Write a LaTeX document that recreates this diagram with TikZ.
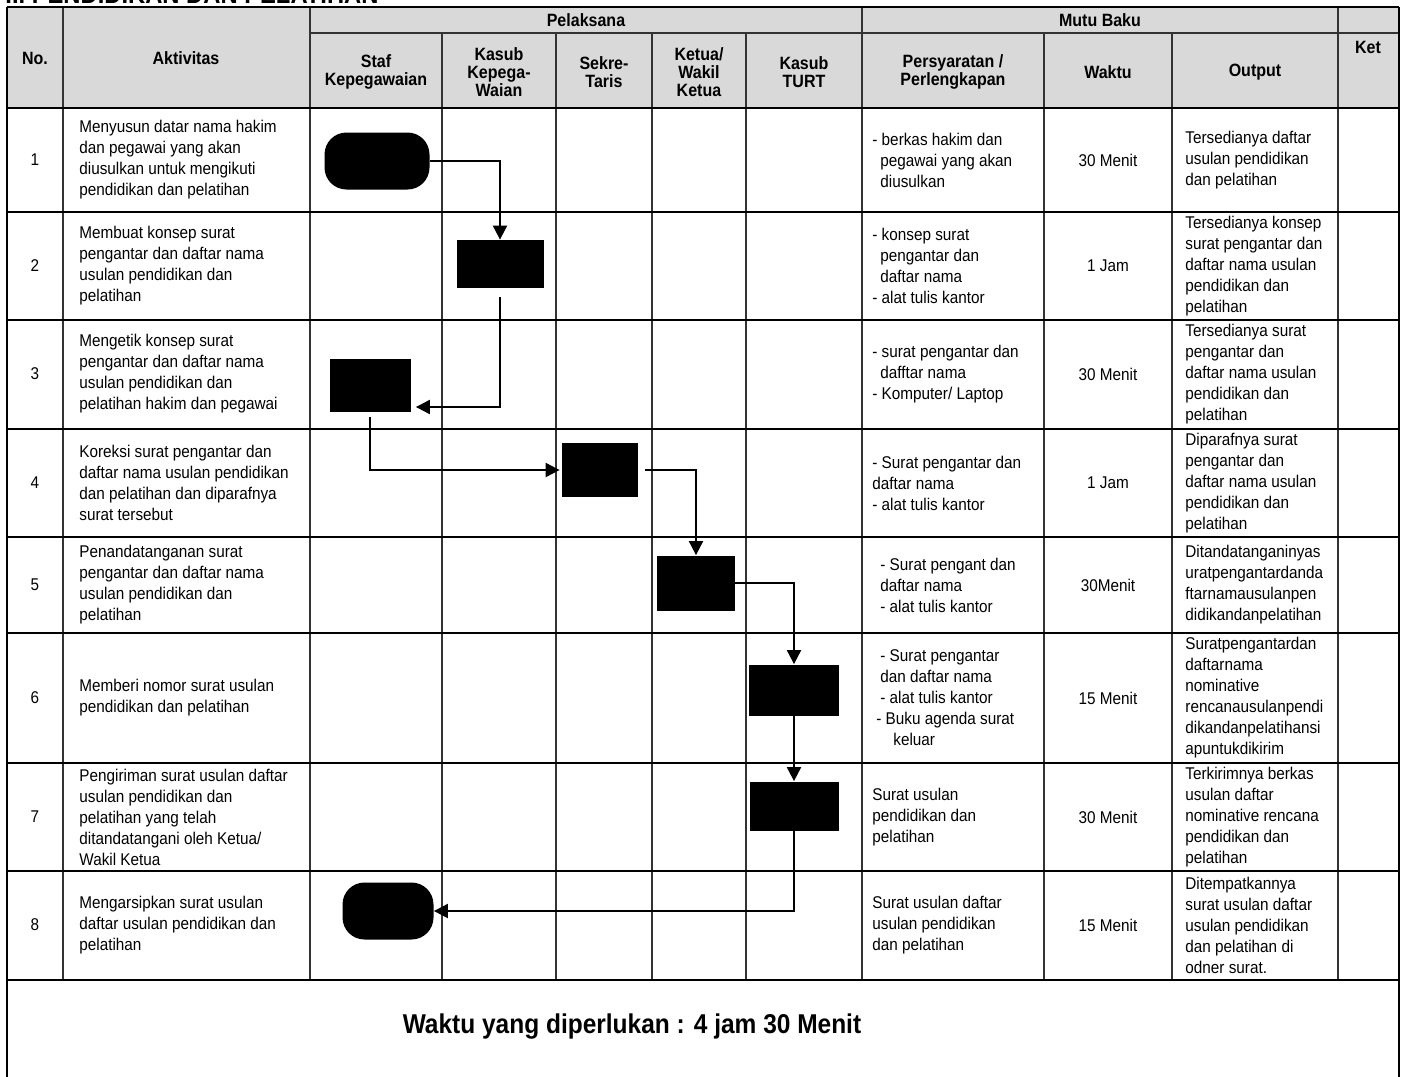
\documentclass[tikz,border=0pt]{standalone}
\usepackage{fontspec}
\setmainfont{Liberation Sans}[FakeStretch=0.9]
\usetikzlibrary{arrows.meta}
\definecolor{kepalabg}{HTML}{D9D9D9}
\definecolor{garis}{HTML}{333333}
\newcommand\isi{\fontsize{8.5pt}{10.5pt}\selectfont}
\newcommand\kepala{\fontsize{8.9pt}{9pt}\selectfont\bfseries}
\newcommand\geser{\hspace*{4pt}}

\begin{document}
\begin{tikzpicture}[x=0.5pt,y=-0.5pt,
  isian/.style={font=\isi,align=left,inner sep=0pt,anchor=west},
  tengah/.style={font=\isi,align=center,inner sep=0pt},
  judulkol/.style={font=\kepala,align=center,inner sep=0pt},
  terminal/.style={fill=black,rounded corners=11pt,minimum height=28.5pt,inner sep=0pt},
  proses/.style={fill=black,inner sep=0pt},
  alir/.style={line width=1pt,-{Triangle[length=7pt,width=7pt]}}]
\useasboundingbox (0,0) rectangle (1405,1077);

% judul (terpotong di tepi atas)
\node[anchor=base west,inner sep=0pt,font=\fontsize{13.2pt}{14pt}\selectfont\bfseries] (judul) at (5,3) {II. PENDIDIKAN DAN PELATIHAN};

% tabel
\fill[kepalabg] (7,7) rectangle (1399,108);
\foreach \x in {63,310,862,1338} \draw[line width=0.7pt,garis] (\x,7) -- (\x,980);
\foreach \x in {442,556,652,746,1044,1172} \draw[line width=0.7pt,garis] (\x,33) -- (\x,980);
\draw[line width=0.7pt,garis] (310,33) -- (1399,33);
\foreach \y in {7,108,212,320,429,537,633,763,871,980} \draw[line width=1.2pt] (7,\y) -- (1399,\y);
\draw[line width=1.1pt] (7,7) -- (7,1090) (1399,7) -- (1399,1090);

% kepala tabel
\node[judulkol] (hno) at (35,58) {No.};
\node[judulkol] (hakt) at (186,58) {Aktivitas};
\node[judulkol] (hpel) at (586,20) {Pelaksana};
\node[judulkol] (hmutu) at (1100,20) {Mutu Baku};
\foreach \x/\t/\id in {376/{Staf\\Kepegawaian}/staf, 499/{Kasub\\Kepega-\\Waian}/kasub, 604/{Sekre-\\Taris}/sek, 699/{Ketua/\\Wakil\\Ketua}/ketua, 804/{Kasub\\TURT}/turt, 953/{Persyaratan /\\Perlengkapan}/syarat, 1108/{Waktu}/waktu, 1255/{Output}/output}
  \node[judulkol] (h\id) at (\x,72) {\t};
\node[judulkol] (hket) at (1368,47) {Ket};

% isi tabel
\foreach \y/\n in {160/1,266/2,374/3,483/4,585/5,698/6,817/7,925/8}
  \node[tengah] (no\n) at (35,\y) {\n};
\foreach \y/\t/\n in {
160/{Menyusun datar nama hakim\\dan pegawai yang akan\\diusulkan untuk mengikuti\\pendidikan dan pelatihan}/1,
266/{Membuat konsep surat\\pengantar dan daftar nama\\usulan pendidikan dan\\pelatihan}/2,
374/{Mengetik konsep surat\\pengantar dan daftar nama\\usulan pendidikan dan\\pelatihan hakim dan pegawai}/3,
483/{Koreksi surat pengantar dan\\daftar nama usulan pendidikan\\dan pelatihan dan diparafnya\\surat tersebut}/4,
585/{Penandatanganan surat\\pengantar dan daftar nama\\usulan pendidikan dan\\pelatihan}/5,
698/{Memberi nomor surat usulan\\pendidikan dan pelatihan}/6,
817/{Pengiriman surat usulan daftar\\usulan pendidikan dan\\pelatihan yang telah\\ditandatangani oleh Ketua/\\Wakil Ketua}/7,
925/{Mengarsipkan surat usulan\\daftar usulan pendidikan dan\\pelatihan}/8}
  \node[isian] (akt\n) at (79,\y) {\t};
\foreach \y/\t/\n in {
160/{- berkas hakim dan\\\geser pegawai yang akan\\\geser diusulkan}/1,
266/{- konsep surat\\\geser pengantar dan\\\geser daftar nama\\- alat tulis kantor}/2,
374/{- surat pengantar dan\\\geser dafftar nama\\- Komputer/ Laptop}/3,
483/{- Surat pengantar dan\\daftar nama\\- alat tulis kantor}/4,
585/{\geser- Surat pengant dan\\\geser daftar nama\\\geser- alat tulis kantor}/5,
698/{\geser- Surat pengantar\\\geser dan daftar nama\\\geser- alat tulis kantor\\\hspace*{2pt}- Buku agenda surat\\\hspace*{10.5pt}keluar}/6,
817/{Surat usulan\\pendidikan dan\\pelatihan}/7,
925/{Surat usulan daftar\\usulan pendidikan\\dan pelatihan}/8}
  \node[isian] (syarat\n) at (872,\y) {\t};
\foreach \y/\t/\n in {160/30 Menit/1,266/1 Jam/2,374/30 Menit/3,483/1 Jam/4,585/30Menit/5,698/15 Menit/6,817/30 Menit/7,925/15 Menit/8}
  \node[tengah] (waktu\n) at (1108,\y) {\t};
\foreach \y/\t/\n in {
160/{Tersedianya daftar\\usulan pendidikan\\dan pelatihan}/1,
266/{Tersedianya konsep\\surat pengantar dan\\daftar nama usulan\\pendidikan dan\\pelatihan}/2,
374/{Tersedianya surat\\pengantar dan\\daftar nama usulan\\pendidikan dan\\pelatihan}/3,
483/{Diparafnya surat\\pengantar dan\\daftar nama usulan\\pendidikan dan\\pelatihan}/4,
585/{Ditandatanganinyas\\uratpengantardanda\\ftarnamausulanpen\\didikandanpelatihan}/5,
698/{Suratpengantardan\\daftarnama\\nominative\\rencanausulanpendi\\dikandanpelatihansi\\apuntukdikirim}/6,
817/{Terkirimnya berkas\\usulan daftar\\nominative rencana\\pendidikan dan\\pelatihan}/7,
925/{Ditempatkannya\\surat usulan daftar\\usulan pendidikan\\dan pelatihan di\\odner surat.}/8}
  \node[isian] (out\n) at (1185,\y) {\t};

% bagan alir
\node[terminal,minimum width=52.5pt] (t1) at (377,161) {};
\node[proses,minimum width=43.5pt,minimum height=24pt] (b2) at (500,264) {};
\node[proses,minimum width=40.5pt,minimum height=26.5pt] (b3) at (370,385) {};
\node[proses,minimum width=38pt,minimum height=27pt] (b4) at (600,470) {};
\node[proses,minimum width=39pt,minimum height=27.5pt] (b5) at (696,583) {};
\node[proses,minimum width=45pt,minimum height=25.5pt] (b6) at (794,690) {};
\node[proses,minimum width=44.5pt,minimum height=24.5pt] (b7) at (794,806) {};
\node[terminal,minimum width=45.5pt] (t8) at (388,911) {};

\draw[alir] (t1.east) -| (b2.north);
\draw[alir,shorten >=2.5pt] ([yshift=-4.5pt]b2.south) |- ([yshift=-11pt]b3.east);
\draw[alir,shorten >=1pt] ([yshift=-2.5pt]b3.south) |- (b4.west);
\draw[alir] ([xshift=3.5pt]b4.east) -| (b5.north);
\draw[alir] (b5.east) -| (b6.north);
\draw[alir] (b6.south) -- (b7.north);
\draw[alir] (b7.south) |- (t8.east);

% jumlah waktu
\node[inner sep=0pt,font=\fontsize{13.6pt}{15pt}\selectfont\bfseries] (total) at (632,1027) {Waktu yang diperlukan : 4 jam 30 Menit};
\end{tikzpicture}
\end{document}
